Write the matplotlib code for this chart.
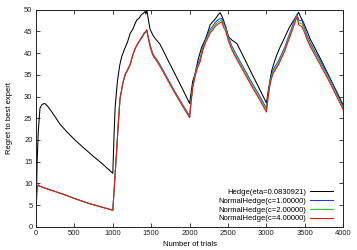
import matplotlib
matplotlib.use("Agg")
import matplotlib.pyplot as plt

# ---- data ----
t_hedge = [0, 5, 15, 30, 52, 80, 115, 150, 200, 250, 313, 400, 500, 600, 747, 850, 1000,
           1005, 1016, 1030, 1060, 1090, 1116, 1150, 1190, 1225, 1260, 1290, 1311, 1340, 1370,
           1400, 1420, 1430, 1442, 1460, 1485, 1520, 1550, 1616, 1700, 1800, 1900, 2000,
           2020, 2040, 2072, 2110, 2159, 2200, 2240, 2267, 2300, 2340, 2370, 2397, 2420, 2441,
           2506, 2550, 2615, 2700, 2800, 2919, 3000,
           3020, 3049, 3070, 3100, 3135, 3180, 3222, 3260, 3300, 3331, 3370, 3400, 3418, 3440,
           3483, 3530, 3570, 3600, 3700, 3800, 3900, 4000]
hedge = [0, 6, 15, 22, 27.3, 28.2, 28.4, 27.8, 26.6, 25.3, 23.6, 21.9, 20.1, 18.5, 16.2, 14.7, 12.3,
         15, 21, 27.5, 33.5, 37.2, 39.2, 40.8, 42.5, 44.5, 45.5, 46.8, 47.6, 48.0, 48.8,
         49.2, 49.6, 49.0, 50.0, 48.0, 45.5, 44.2, 43.4, 42.0, 39.0, 35.5, 32.0, 28.4,
         31, 33.5, 35.3, 38.5, 41.5, 43.0, 45.0, 46.5, 47.2, 48.0, 48.8, 49.3, 48.5, 47.6,
         43.8, 43.0, 42.2, 39.2, 35.6, 31.4, 28.5,
         31, 34, 36.1, 37.8, 39.6, 41.5, 43, 44.5, 46, 46.9, 48, 48.8, 49.4, 48.5,
         47.0, 45, 43.2, 42.2, 38.8, 35.2, 31.6, 28.0]

t_nh = [0, 5, 10, 20, 30, 40, 100, 200, 300, 400, 500, 600, 700, 800, 900, 1000,
        1010, 1030, 1050, 1070, 1094, 1130, 1160, 1190, 1225, 1260, 1290, 1320, 1355, 1380,
        1410, 1430, 1442, 1460, 1485, 1510, 1529, 1570, 1616, 1700, 1800, 1900, 2000,
        2015, 2040, 2070, 2100, 2137, 2170, 2210, 2267, 2300, 2340, 2380, 2419, 2440, 2470,
        2500, 2550, 2600, 2700, 2800, 2919, 3000,
        3020, 3049, 3080, 3110, 3157, 3200, 3240, 3266, 3300, 3340, 3370, 3397, 3420, 3462,
        3500, 3530, 3570, 3600, 3700, 3800, 3900, 4000]

nh_c1 = [0, 5, 8, 9.3, 9.6, 9.4, 9.0, 8.4, 7.8, 7.2, 6.5, 5.9, 5.3, 4.8, 4.3, 3.8,
         6.5, 12, 17.5, 23.5, 29.5, 33.1, 35.1, 36.1, 37.4, 39.6, 41.1, 42.1, 43.1, 43.8,
         44.7, 45.0, 45.4, 43.9, 42.0, 40.5, 39.6, 38.6, 37.3, 34.6, 31.4, 28.4, 25.5,
         28.5, 32.5, 35.2, 37.2, 38.8, 41.2, 43.3, 45.4, 46.2, 47.2, 47.8, 48.0, 47.0, 46.2,
         44.0, 41.6, 39.9, 36.7, 33.5, 29.9, 27.2,
         30.2, 33.8, 35.8, 36.9, 38.2, 39.9, 41.4, 42.8, 44.4, 46.4, 47.9, 49.0, 47.6, 47.5,
         45.5, 44.0, 42.4, 41.4, 38.2, 34.9, 31.4, 27.6]

nh_c2 = [0, 5, 8, 9.3, 9.6, 9.4, 9.0, 8.4, 7.8, 7.2, 6.5, 5.9, 5.3, 4.8, 4.3, 3.8,
         6.5, 12, 17.5, 23.5, 29.5, 33.0, 35.0, 36.0, 37.3, 39.5, 41.0, 42.0, 43.0, 43.7,
         44.6, 44.9, 45.3, 43.7, 41.7, 40.2, 39.4, 38.4, 37.1, 34.4, 31.2, 28.2, 25.3,
         28.2, 32.2, 34.8, 36.8, 38.4, 40.8, 42.9, 45.0, 45.7, 46.7, 47.3, 47.6, 46.5, 45.6,
         43.5, 41.1, 39.4, 36.2, 33.0, 29.4, 26.8,
         29.8, 33.4, 35.4, 36.4, 37.7, 39.4, 40.9, 42.3, 43.9, 45.9, 47.4, 48.7, 47.0, 46.8,
         45.0, 43.5, 41.9, 40.9, 37.7, 34.4, 30.9, 27.3]

nh_c4 = [0, 5, 8, 9.3, 9.6, 9.4, 9.0, 8.4, 7.8, 7.2, 6.5, 5.9, 5.3, 4.8, 4.3, 3.8,
         6.5, 12, 17.5, 23.5, 29.5, 33, 35, 36, 37.3, 39.5, 41, 42, 43, 43.6,
         44.5, 44.8, 45.3, 43.5, 41.5, 40.0, 39.2, 38.2, 36.9, 34.2, 31.0, 28.0, 25.1,
         28, 32, 34.5, 36.5, 38.0, 40.5, 42.5, 44.6, 45.3, 46.3, 46.8, 47.2, 46.0, 45.0,
         43.0, 40.7, 39.0, 35.8, 32.6, 29.0, 26.4,
         29.5, 33, 35, 36.0, 37.3, 39.0, 40.5, 41.9, 43.5, 45.5, 47.0, 48.4, 46.5, 46.1,
         44.5, 43.0, 41.5, 40.5, 37.3, 34.0, 30.5, 26.9]

labels = ["Hedge(eta=0.0830921)", "NormalHedge(c=1.00000)",
          "NormalHedge(c=2.00000)", "NormalHedge(c=4.00000)"]
x_ticks = [0, 500, 1000, 1500, 2000, 2500, 3000, 3500, 4000]
y_ticks = [0, 5, 10, 15, 20, 25, 30, 35, 40, 45, 50]

# ---- plot ----
plt.rcParams['font.family'] = ['Liberation Sans', 'DejaVu Sans']
fig = plt.figure(figsize=(3.57, 2.5), dpi=100)
ax = fig.add_axes([0.1008, 0.0932, 0.8608, 0.868])

lw = 0.75
ax.plot(t_hedge, hedge, color='black', lw=lw, label=labels[0])
ax.plot(t_nh, nh_c1, color='#1a3cff', lw=lw, label=labels[1])
ax.plot(t_nh, nh_c2, color='#22cc22', lw=lw, label=labels[2])
ax.plot(t_nh, nh_c4, color='#ee1111', lw=lw, label=labels[3])

ax.set_xlim(0, 4000)
ax.set_ylim(0, 50)
ax.set_xticks(x_ticks)
ax.set_yticks(y_ticks)
ax.tick_params(direction='in', top=True, right=True, length=3, width=0.6,
               labelsize=5.5, pad=2.5, colors='#222222')
for s in ax.spines.values():
    s.set_linewidth(0.7)
    s.set_color('#222222')

ax.set_xlabel("Number of trials", fontsize=5.5, labelpad=3)
ax.set_ylabel("Regret to best expert", fontsize=5.5, labelpad=8)

leg = ax.legend(loc='lower right', fontsize=5.5, frameon=False, markerfirst=False,
                handlelength=3.0, handletextpad=0.5, labelspacing=0.2,
                borderaxespad=0.3, bbox_to_anchor=(0.985, -0.005))
for txt in leg.get_texts():
    txt.set_ha('right')
fig.savefig("out.png", dpi=100)
